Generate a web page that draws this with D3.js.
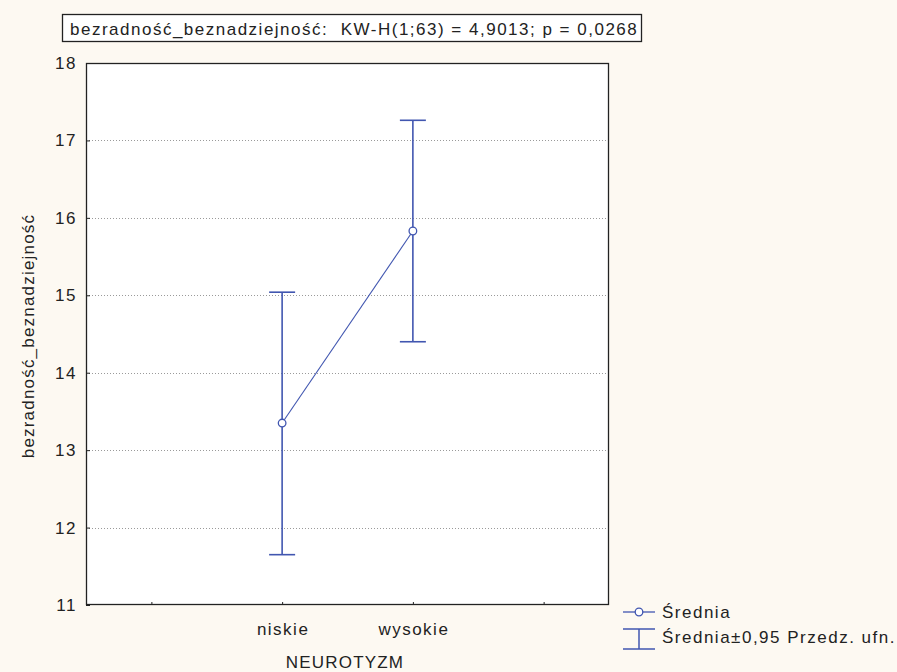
<!DOCTYPE html>
<html>
<head>
<meta charset="utf-8">
<script src="https://cdn.jsdelivr.net/npm/d3@7"></script>
<style>
  body { margin: 0; background: #fdf9f2; }
  svg text { font-family: "Liberation Sans", Arial, sans-serif; fill: #222; letter-spacing: 1.5px; }
</style>
</head>
<body>
<svg id="chart" width="897" height="672"></svg>
<script>
// values
const categories = ["niskie", "wysokie"];
const means = [13.35, 15.83];
const lower = [11.65, 14.40];
const upper = [15.04, 17.26];
const yTicks = [11, 12, 13, 14, 15, 16, 17, 18];
const titleText = "bezradność_beznadziejność:  KW-H(1;63) = 4,9013; p = 0,0268";

const blue = "#4156b0";
const svg = d3.select("#chart");

// plot box edges
const pLeft = 86, pRight = 609, pTop = 63, pBottom = 605;

// category slots sit at 1 and 2, ticks at 0..3
const x = d3.scaleLinear().domain([-0.5, 3.5]).range([pLeft, pRight]);
const y = d3.scaleLinear().domain([11, 18]).range([pBottom, pTop]);

svg.append("rect")
  .attr("x", pLeft).attr("y", pTop)
  .attr("width", pRight - pLeft).attr("height", pBottom - pTop)
  .attr("fill", "#fff");

// dotted grid
svg.append("g").selectAll("line")
  .data(yTicks.filter(d => d > 11 && d < 18))
  .join("line")
  .attr("x1", pLeft).attr("x2", pRight)
  .attr("y1", d => Math.round(y(d)) + 0.5).attr("y2", d => Math.round(y(d)) + 0.5)
  .attr("stroke", "#9a9a9a").attr("stroke-width", 1)
  .attr("stroke-dasharray", "1,2");

// y axis, ticks drawn inward
const yAxis = svg.append("g")
  .attr("transform", `translate(${pLeft},0)`)
  .call(d3.axisLeft(y).tickValues(yTicks).tickSize(-4).tickPadding(9).tickFormat(d3.format("d")));
yAxis.select(".domain").remove();
yAxis.selectAll("line").attr("stroke", "#222");
yAxis.selectAll("text")
  .style("font-size", "17px")
  .style("font-family", "'Liberation Sans', Arial, sans-serif")
  .attr("fill", "#222");

// x axis
const xAxis = svg.append("g")
  .attr("transform", `translate(0,${pBottom})`)
  .call(d3.axisBottom(x).tickValues([0, 1, 2, 3]).tickSize(-3).tickFormat(() => ""));
xAxis.select(".domain").remove();
xAxis.selectAll("line").attr("stroke", "#222");

svg.append("g").selectAll("text")
  .data(categories)
  .join("text")
  .attr("x", (d, i) => x(i + 1) + 1)
  .attr("y", 635)
  .attr("text-anchor", "middle")
  .style("font-size", "17px")
  .text(d => d);

// plot frame
svg.append("rect")
  .attr("x", pLeft + 0.5).attr("y", pTop + 0.5)
  .attr("width", pRight - pLeft - 1).attr("height", pBottom - pTop - 1)
  .attr("fill", "none").attr("stroke", "#222").attr("stroke-width", 1.3);

// error bars
const bars = svg.append("g").attr("stroke", blue).attr("stroke-width", 1.6).attr("fill", "none");
categories.forEach((c, i) => {
  const cx = x(i + 1);
  bars.append("line").attr("x1", cx).attr("x2", cx).attr("y1", y(lower[i])).attr("y2", y(upper[i]));
  bars.append("line").attr("x1", cx - 13).attr("x2", cx + 13).attr("y1", y(upper[i])).attr("y2", y(upper[i]));
  bars.append("line").attr("x1", cx - 13).attr("x2", cx + 13).attr("y1", y(lower[i])).attr("y2", y(lower[i]));
});

// mean line + markers
const line = d3.line().x((d, i) => x(i + 1)).y(d => y(d));
svg.append("path")
  .datum(means)
  .attr("d", line)
  .attr("fill", "none").attr("stroke", blue).attr("stroke-width", 1.1);

svg.append("g").selectAll("circle")
  .data(means)
  .join("circle")
  .attr("cx", (d, i) => x(i + 1)).attr("cy", d => y(d))
  .attr("r", 3.8)
  .attr("fill", "#fff").attr("stroke", blue).attr("stroke-width", 1.3);

// title box
svg.append("rect")
  .attr("x", 62.5).attr("y", 14.5).attr("width", 579).attr("height", 27)
  .attr("fill", "#fff").attr("stroke", "#222").attr("stroke-width", 1.3);
svg.append("text")
  .attr("x", 70).attr("y", 34.5)
  .style("font-size", "17px")
  .attr("xml:space", "preserve")
  .text(titleText);

// axis titles
svg.append("text")
  .attr("transform", "translate(34,336) rotate(-90)")
  .attr("text-anchor", "middle")
  .style("font-size", "17px")
  .style("letter-spacing", "1.2px")
  .text("bezradność_beznadziejność");

svg.append("text")
  .attr("x", 345).attr("y", 668)
  .attr("text-anchor", "middle")
  .style("font-size", "17px")
  .style("letter-spacing", "1.2px")
  .text("NEUROTYZM");

// legend
const lg = svg.append("g").attr("stroke", blue).attr("fill", "none");
lg.append("line").attr("x1", 623).attr("x2", 655).attr("y1", 612).attr("y2", 612).attr("stroke-width", 1.3);
lg.append("circle").attr("cx", 639).attr("cy", 612).attr("r", 3.8).attr("fill", "#fff").attr("stroke-width", 1.3);
lg.append("line").attr("x1", 623).attr("x2", 655).attr("y1", 629).attr("y2", 629).attr("stroke-width", 1.5);
lg.append("line").attr("x1", 623).attr("x2", 655).attr("y1", 649).attr("y2", 649).attr("stroke-width", 1.5);
lg.append("line").attr("x1", 639).attr("x2", 639).attr("y1", 629).attr("y2", 649).attr("stroke-width", 1.5);

svg.append("text").attr("x", 662).attr("y", 618).style("font-size", "17px").text("Średnia");
svg.append("text").attr("x", 662).attr("y", 643).style("font-size", "17px").text("Średnia±0,95 Przedz. ufn.");
</script>
</body>
</html>
